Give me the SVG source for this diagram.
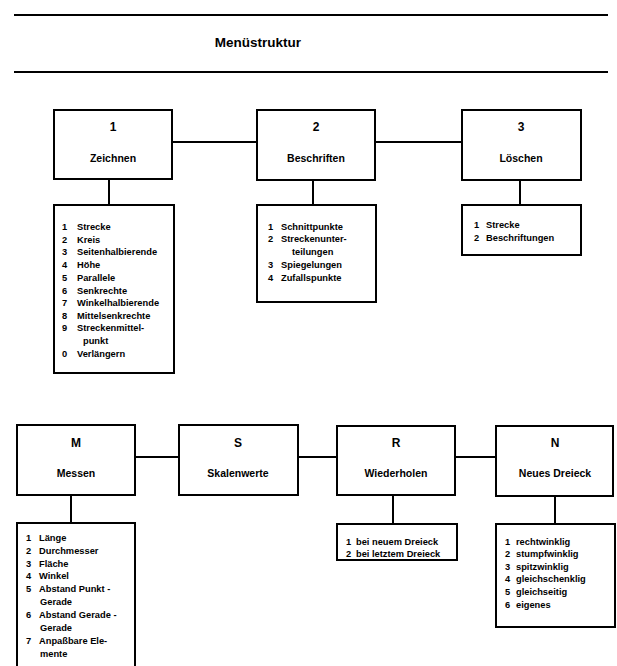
<svg xmlns="http://www.w3.org/2000/svg" width="617" height="666" viewBox="0 0 617 666">
<style>
  text { font-family: "Liberation Sans", Arial, Helvetica, sans-serif; font-weight: bold; fill: #000; }
  .title { font-size: 13.5px; text-anchor: middle; }
  .num { font-size: 12px; text-anchor: middle; }
  .lbl { font-size: 10.5px; text-anchor: middle; }
  .it { font-size: 9.3px; }
  .box { fill: #fff; stroke: #000; stroke-width: 2; }
  .rule { stroke: #000; stroke-width: 2.2; fill: none; }
  .conn line { stroke: #000; stroke-width: 2; }
</style>
<rect width="617" height="666" fill="#fff"/>
<line class="rule" x1="14" y1="15" x2="608" y2="15"/>
<text class="title" x="258" y="47">Menüstruktur</text>
<line class="rule" x1="14" y1="72" x2="608" y2="72"/>

<g id="connectors" class="conn">
  <line x1="172" y1="142" x2="257" y2="142"/>
  <line x1="375" y1="142" x2="462" y2="142"/>
  <line x1="109" y1="179" x2="109" y2="205"/>
  <line x1="313" y1="180" x2="313" y2="205"/>
  <line x1="520" y1="180" x2="520" y2="205"/>
  <line x1="135" y1="457" x2="179" y2="457"/>
  <line x1="298" y1="457" x2="337" y2="457"/>
  <line x1="455" y1="457" x2="496" y2="457"/>
  <line x1="71" y1="495" x2="71" y2="523"/>
  <line x1="393" y1="495" x2="393" y2="524"/>
  <line x1="555" y1="496" x2="555" y2="524"/>
</g>

<g id="node-1">
  <rect class="box" x="54" y="110" width="118" height="69"/>
  <text class="num" x="113" y="131">1</text>
  <text class="lbl" x="113" y="162">Zeichnen</text>
</g>
<g id="node-2">
  <rect class="box" x="257" y="110" width="118" height="70"/>
  <text class="num" x="316" y="131">2</text>
  <text class="lbl" x="316" y="162">Beschriften</text>
</g>
<g id="node-3">
  <rect class="box" x="462" y="110" width="119" height="70"/>
  <text class="num" x="521" y="131">3</text>
  <text class="lbl" x="521" y="162">Löschen</text>
</g>

<g id="list-1">
  <rect class="box" x="54" y="205" width="120" height="168"/>
  <text class="it" x="62" y="230">1</text><text class="it" x="77" y="230">Strecke</text>
  <text class="it" x="62" y="243">2</text><text class="it" x="77" y="243">Kreis</text>
  <text class="it" x="62" y="255">3</text><text class="it" x="77" y="255">Seitenhalbierende</text>
  <text class="it" x="62" y="268">4</text><text class="it" x="77" y="268">Höhe</text>
  <text class="it" x="62" y="281">5</text><text class="it" x="77" y="281">Parallele</text>
  <text class="it" x="62" y="294">6</text><text class="it" x="77" y="294">Senkrechte</text>
  <text class="it" x="62" y="306">7</text><text class="it" x="77" y="306">Winkelhalbierende</text>
  <text class="it" x="62" y="319">8</text><text class="it" x="77" y="319">Mittelsenkrechte</text>
  <text class="it" x="62" y="331">9</text><text class="it" x="77" y="331">Streckenmittel-</text>
  <text class="it" x="83" y="344">punkt</text>
  <text class="it" x="62" y="357">0</text><text class="it" x="77" y="357">Verlängern</text>
</g>
<g id="list-2">
  <rect class="box" x="257" y="205" width="119" height="97"/>
  <text class="it" x="268" y="230">1</text><text class="it" x="281" y="230">Schnittpunkte</text>
  <text class="it" x="268" y="242">2</text><text class="it" x="281" y="242">Streckenunter-</text>
  <text class="it" x="292" y="255">teilungen</text>
  <text class="it" x="268" y="268">3</text><text class="it" x="281" y="268">Spiegelungen</text>
  <text class="it" x="268" y="281">4</text><text class="it" x="281" y="281">Zufallspunkte</text>
</g>
<g id="list-3">
  <rect class="box" x="462" y="205" width="119" height="50"/>
  <text class="it" x="474" y="228">1</text><text class="it" x="486" y="228">Strecke</text>
  <text class="it" x="474" y="241">2</text><text class="it" x="486" y="241">Beschriftungen</text>
</g>

<g id="node-M">
  <rect class="box" x="17" y="425" width="118" height="70"/>
  <text class="num" x="76" y="447">M</text>
  <text class="lbl" x="76" y="477">Messen</text>
</g>
<g id="node-S">
  <rect class="box" x="179" y="425" width="119" height="70"/>
  <text class="num" x="238" y="447">S</text>
  <text class="lbl" x="238" y="477">Skalenwerte</text>
</g>
<g id="node-R">
  <rect class="box" x="337" y="426" width="118" height="69"/>
  <text class="num" x="396" y="447">R</text>
  <text class="lbl" x="396" y="477">Wiederholen</text>
</g>
<g id="node-N">
  <rect class="box" x="496" y="426" width="117" height="70"/>
  <text class="num" x="555" y="447">N</text>
  <text class="lbl" x="555" y="477">Neues Dreieck</text>
</g>

<g id="list-M">
  <rect class="box" x="17" y="523" width="118" height="150"/>
  <text class="it" x="26" y="541">1</text><text class="it" x="39" y="541">Länge</text>
  <text class="it" x="26" y="554">2</text><text class="it" x="39" y="554">Durchmesser</text>
  <text class="it" x="26" y="567">3</text><text class="it" x="39" y="567">Fläche</text>
  <text class="it" x="26" y="579">4</text><text class="it" x="39" y="579">Winkel</text>
  <text class="it" x="26" y="592">5</text><text class="it" x="39" y="592">Abstand Punkt -</text>
  <text class="it" x="40" y="605">Gerade</text>
  <text class="it" x="26" y="618">6</text><text class="it" x="39" y="618">Abstand Gerade -</text>
  <text class="it" x="40" y="631">Gerade</text>
  <text class="it" x="26" y="644">7</text><text class="it" x="39" y="644">Anpaßbare Ele-</text>
  <text class="it" x="40" y="657">mente</text>
</g>
<g id="list-R">
  <rect class="box" x="337" y="524" width="120" height="36"/>
  <text class="it" x="346" y="545">1</text><text class="it" x="356" y="545">bei neuem Dreieck</text>
  <text class="it" x="346" y="557">2</text><text class="it" x="356" y="557">bei letztem Dreieck</text>
</g>
<g id="list-N">
  <rect class="box" x="496" y="524" width="119" height="103"/>
  <text class="it" x="505" y="545">1</text><text class="it" x="516" y="545">rechtwinklig</text>
  <text class="it" x="505" y="557">2</text><text class="it" x="516" y="557">stumpfwinklig</text>
  <text class="it" x="505" y="570">3</text><text class="it" x="516" y="570">spitzwinklig</text>
  <text class="it" x="505" y="582">4</text><text class="it" x="516" y="582">gleichschenklig</text>
  <text class="it" x="505" y="595">5</text><text class="it" x="516" y="595">gleichseitig</text>
  <text class="it" x="505" y="608">6</text><text class="it" x="516" y="608">eigenes</text>
</g>
</svg>
